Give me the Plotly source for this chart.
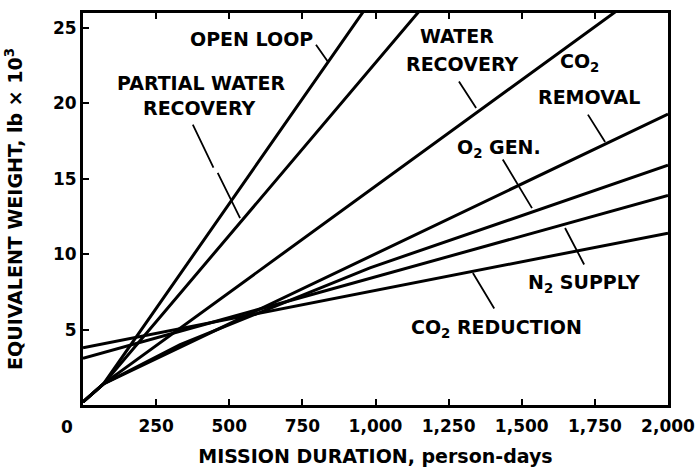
import plotly.graph_objects as go

# ---- data (mission duration in person-days, equivalent weight in lb x 1000) ----
open_loop_x = [0, 70, 973]
open_loop_y = [0.2, 1.4, 26.5]
partial_water_x = [0, 70, 1166]
partial_water_y = [0.2, 1.4, 26.5]
water_recovery_x = [0, 70, 1850]
water_recovery_y = [0.2, 1.4, 26.5]
co2_removal_x = [0, 70, 2000]
co2_removal_y = [0.2, 1.4, 19.3]
o2_gen_x = [0, 70, 332, 981, 2000]
o2_gen_y = [0.2, 1.4, 4.0, 9.1, 15.9]
n2_supply_x = [0, 2000]
n2_supply_y = [3.1, 13.9]
co2_reduction_x = [0, 2000]
co2_reduction_y = [3.8, 11.4]

x_ticks = [0, 250, 500, 750, 1000, 1250, 1500, 1750, 2000]
x_tick_labels = ["", "250", "500", "750", "1,000", "1,250", "1,500", "1,750", "2,000"]
y_ticks = [0, 5, 10, 15, 20, 25]
y_tick_labels = ["", "5", "10", "15", "20", "25"]

FONT = "DejaVu Sans"

series = [
    (open_loop_x, open_loop_y),
    (partial_water_x, partial_water_y),
    (water_recovery_x, water_recovery_y),
    (co2_removal_x, co2_removal_y),
    (o2_gen_x, o2_gen_y),
    (n2_supply_x, n2_supply_y),
    (co2_reduction_x, co2_reduction_y),
]

fig = go.Figure()
for xs, ys in series:
    fig.add_trace(go.Scatter(x=xs, y=ys, mode="lines",
                             line=dict(color="black", width=3),
                             showlegend=False, hoverinfo="skip"))

# labels: (text, x, y)
labels = [
    ("<b>OPEN LOOP</b>", 575, 24.3),
    ("<b>PARTIAL WATER</b>", 403, 21.35),
    ("<b>RECOVERY</b>", 398, 19.7),
    ("<b>WATER</b>", 1278, 24.5),
    ("<b>RECOVERY</b>", 1295, 22.6),
    ("<b>CO<sub>2</sub></b>", 1697, 22.7),
    ("<b>REMOVAL</b>", 1730, 20.4),
    ("<b>O<sub>2</sub> GEN.</b>", 1422, 17.0),
    ("<b>N<sub>2</sub> SUPPLY</b>", 1712, 8.05),
    ("<b>CO<sub>2</sub> REDUCTION</b>", 1412, 5.05),
]
for t, x, y in labels:
    fig.add_annotation(x=x, y=y, xref="x", yref="y", text=t, showarrow=False,
                       font=dict(family=FONT, size=19, color="black"),
                       xanchor="center", yanchor="middle")

# leader lines: (head_x, head_y, tail_x, tail_y)
leaders = [
    (838, 22.75, 793, 24.0),
    (446, 15.75, 373, 18.7),
    (537, 12.4, 458, 15.5),
    (1344, 19.7, 1282, 21.55),
    (1785, 17.44, 1723, 19.36),
    (1535, 13.06, 1432, 16.38),
    (1648, 11.74, 1716, 9.22),
    (1333, 8.75, 1409, 6.3),
]
for hx, hy, tx, ty in leaders:
    fig.add_annotation(x=hx, y=hy, xref="x", yref="y", ax=tx, ay=ty,
                       axref="x", ayref="y", text="", showarrow=True,
                       arrowhead=0, arrowwidth=1.8, arrowcolor="black",
                       standoff=0, startstandoff=0)

# shared zero label
fig.add_annotation(x=0, y=0, xref="x", yref="y", text="<b>0</b>", showarrow=False,
                   font=dict(family=FONT, size=17, color="black"),
                   xshift=-16, yshift=-22)

fig.update_layout(
    width=699, height=476,
    margin=dict(l=83, r=31, t=13, b=71),
    paper_bgcolor="white", plot_bgcolor="white",
    font=dict(family=FONT, color="black"),
)
fig.update_xaxes(
    range=[0, 2000], tickvals=x_ticks, ticktext=x_tick_labels,
    ticks="inside", ticklen=6, tickwidth=2, tickcolor="black",
    showline=True, linewidth=3, linecolor="black", mirror="ticks",
    showgrid=False, zeroline=False, automargin=False, ticklabelstandoff=4,
    tickfont=dict(family=FONT, size=17, color="black", weight="bold"),
    title=dict(text="<b>MISSION DURATION, person-days</b>",
               font=dict(family=FONT, size=19, color="black"), standoff=15),
)
fig.update_yaxes(
    range=[0, 26], tickvals=y_ticks, ticktext=y_tick_labels,
    ticks="inside", ticklen=6, tickwidth=2, tickcolor="black",
    showline=True, linewidth=3, linecolor="black", mirror=True,
    showgrid=False, zeroline=False, automargin=False,
    tickfont=dict(family=FONT, size=17, color="black", weight="bold"),
    title=dict(text="<b>EQUIVALENT WEIGHT, lb × 10<sup>3</sup></b>",
               font=dict(family=FONT, size=19, color="black"), standoff=26),
)

# remove the browser's default page margin so the figure sits at the window's corner
fig.write_html("out.html", config={"displayModeBar": False},
               post_script="document.body.style.margin='0';")
